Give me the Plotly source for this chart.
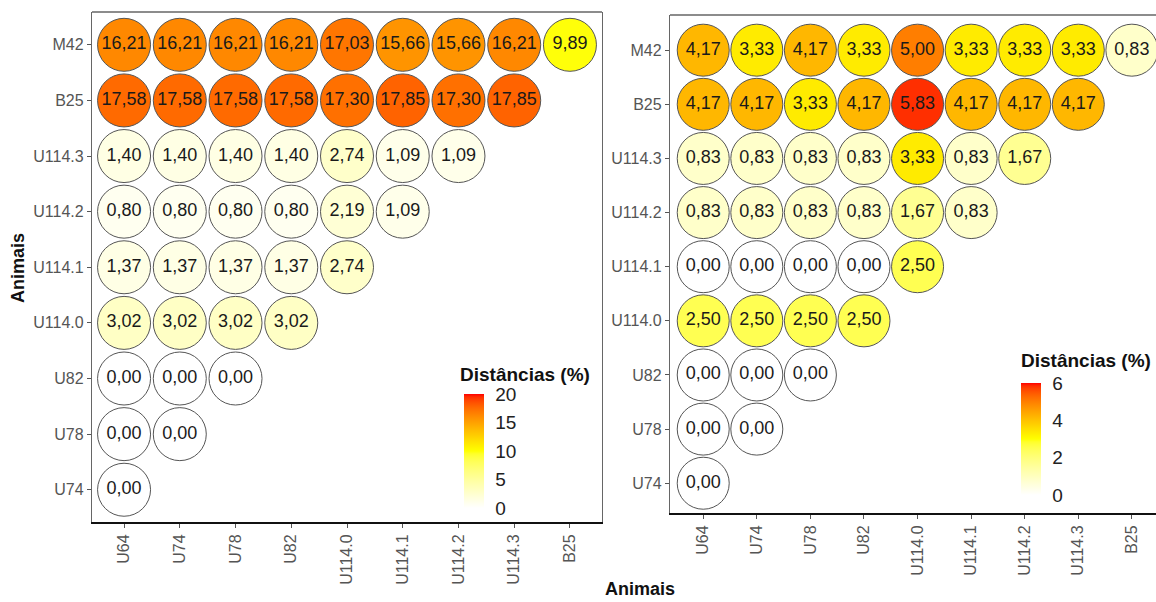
import numpy as np
import plotly.graph_objects as go

# Animals on the x axis (left to right) and y axis (top to bottom)
cols = ["U64", "U74", "U78", "U82", "U114.0", "U114.1", "U114.2", "U114.3", "B25"]
rows = ["M42", "B25", "U114.3", "U114.2", "U114.1", "U114.0", "U82", "U78", "U74"]

# Pairwise distances (%) - left matrix (lower triangle, row by row)
dist_left = [
    [16.21, 16.21, 16.21, 16.21, 17.03, 15.66, 15.66, 16.21, 9.89],
    [17.58, 17.58, 17.58, 17.58, 17.30, 17.85, 17.30, 17.85],
    [1.40, 1.40, 1.40, 1.40, 2.74, 1.09, 1.09],
    [0.80, 0.80, 0.80, 0.80, 2.19, 1.09],
    [1.37, 1.37, 1.37, 1.37, 2.74],
    [3.02, 3.02, 3.02, 3.02],
    [0.00, 0.00, 0.00],
    [0.00, 0.00],
    [0.00],
]

# Pairwise distances (%) - right matrix
dist_right = [
    [4.17, 3.33, 4.17, 3.33, 5.00, 3.33, 3.33, 3.33, 0.83],
    [4.17, 4.17, 3.33, 4.17, 5.83, 4.17, 4.17, 4.17],
    [0.83, 0.83, 0.83, 0.83, 3.33, 0.83, 1.67],
    [0.83, 0.83, 0.83, 0.83, 1.67, 0.83],
    [0.00, 0.00, 0.00, 0.00, 2.50],
    [2.50, 2.50, 2.50, 2.50],
    [0.00, 0.00, 0.00],
    [0.00, 0.00],
    [0.00],
]

left_ticks = [0, 5, 10, 15, 20]
right_ticks = [0, 2, 4, 6]

W, H = 1156, 602


# ---- white -> yellow -> red gradient interpolated in CIELAB ----
def _lin(c):
    c = np.asarray(c, float) / 255.0
    return np.where(c <= 0.04045, c / 12.92, ((c + 0.055) / 1.055) ** 2.4)


def _gam(c):
    c = np.clip(c, 0, 1)
    return np.where(c <= 0.0031308, 12.92 * c, 1.055 * c ** (1 / 2.4) - 0.055) * 255


M = np.array([[0.4124, 0.3576, 0.1805],
              [0.2126, 0.7152, 0.0722],
              [0.0193, 0.1192, 0.9505]])
WP = np.array([0.95047, 1.0, 1.08883])


def rgb2lab(rgb):
    xyz = M @ _lin(rgb) / WP
    f = np.where(xyz > 216 / 24389, np.cbrt(xyz), (24389 / 27 * xyz + 16) / 116)
    return np.array([116 * f[1] - 16, 500 * (f[0] - f[1]), 200 * (f[1] - f[2])])


def lab2rgb(lab):
    L, a, b = lab
    fy = (L + 16) / 116
    fx = fy + a / 500
    fz = fy - b / 200
    f = np.array([fx, fy, fz])
    xyz = np.where(f ** 3 > 216 / 24389, f ** 3, (116 * f - 16) / (24389 / 27)) * WP
    return _gam(np.linalg.solve(M, xyz))


anchors = [(255, 255, 255), (255, 255, 0), (255, 0, 0)]
labs = [rgb2lab(c) for c in anchors]
colorscale = []
for t in np.linspace(0, 1, 41):
    seg = min(int(t * 2), 1)
    u = t * 2 - seg
    lab = labs[seg] * (1 - u) + labs[seg + 1] * u
    r, g, b = lab2rgb(lab)
    colorscale.append([float(t), f"rgb({int(round(r))},{int(round(g))},{int(round(b))})"])


def long_form(mat):
    xs, ys, vs = [], [], []
    for i, row in enumerate(rows):
        for j, v in enumerate(mat[i]):
            xs.append(cols[j])
            ys.append(row)
            vs.append(v)
    return xs, ys, vs


def fmt(v):
    return f"{v:.2f}".replace(".", ",")


fig = go.Figure()

FONT = "Liberation Sans, Arial, sans-serif"

for mat, xa, ya, cax, size in [
    (dist_left, "x", "y", "coloraxis", 53),
    (dist_right, "x2", "y2", "coloraxis2", 52),
]:
    xs, ys, vs = long_form(mat)
    fig.add_trace(go.Scatter(
        x=xs, y=ys, xaxis=xa, yaxis=ya,
        mode="markers+text",
        text=[fmt(v) for v in vs],
        textposition="middle center",
        textfont=dict(family=FONT, size=18, color="#1a1a1a"),
        marker=dict(size=size, color=vs, coloraxis=cax,
                    line=dict(color="#555555", width=1)),
        showlegend=False, hoverinfo="skip", cliponaxis=False,
    ))


def px_x(p):
    return p / W


def px_y(p):
    return 1 - p / H


tickfont = dict(family=FONT, size=16, color="#555555")
common_x = dict(type="category", categoryorder="array", categoryarray=cols,
                tickangle=-90, ticks="outside", ticklen=4, tickcolor="#555555",
                showgrid=False, zeroline=False, showline=True, linecolor="#111111",
                linewidth=2, tickfont=tickfont)
common_y = dict(type="category", categoryorder="array", categoryarray=rows[::-1],
                ticks="outside", ticklen=4, tickcolor="#555555",
                showgrid=False, zeroline=False, showline=True, linecolor="#666666",
                linewidth=1.3, tickfont=tickfont)

# colour bar geometry (pixels): left edge, vertical centre, length
BAR_W = 20
bars = [
    dict(x=464, yc=451, length=114, cmin=0, cmax=20, ticks=left_ticks),
    dict(x=1021, yc=439, length=112, cmin=0, cmax=6, ticks=right_ticks),
]


def colorbar(b):
    return dict(x=px_x(b["x"]), xanchor="left", xpad=0,
                y=px_y(b["yc"]), yanchor="middle", ypad=0,
                len=b["length"], lenmode="pixels",
                thickness=BAR_W, thicknessmode="pixels",
                tickvals=b["ticks"], ticks="outside", tickcolor="rgba(0,0,0,0)",
                ticklen=8, outlinewidth=0,
                tickfont=dict(family=FONT, size=19, color="#222222"))


fig.update_layout(
    width=W, height=H,
    margin=dict(l=0, r=0, t=0, b=0),
    paper_bgcolor="white", plot_bgcolor="white",
    xaxis=dict(common_x, domain=[px_x(92), px_x(602)], range=[-0.575, 8.575], anchor="y"),
    yaxis=dict(common_y, domain=[px_y(522), px_y(12)], range=[-0.58, 8.59], anchor="x",
               mirror=True),
    xaxis2=dict(common_x, domain=[px_x(670), 1.0], range=[-0.62, 8.45], anchor="y2"),
    yaxis2=dict(common_y, domain=[px_y(513), px_y(15)], range=[-0.55, 8.65], anchor="x2"),
    coloraxis=dict(colorscale=colorscale, cmin=bars[0]["cmin"], cmax=bars[0]["cmax"],
                   colorbar=colorbar(bars[0])),
    coloraxis2=dict(colorscale=colorscale, cmin=bars[1]["cmin"], cmax=bars[1]["cmax"],
                    colorbar=colorbar(bars[1])),
)

# small white break marks on both edges of each colour bar
for b in bars:
    for v in b["ticks"]:
        yp = b["yc"] + b["length"] / 2 - (v - b["cmin"]) / (b["cmax"] - b["cmin"]) * b["length"]
        for x0, x1 in [(b["x"], b["x"] + 4), (b["x"] + BAR_W - 4, b["x"] + BAR_W)]:
            fig.add_shape(type="line", xref="paper", yref="paper",
                          x0=px_x(x0), x1=px_x(x1), y0=px_y(yp), y1=px_y(yp),
                          line=dict(color="white", width=1))

# top borders of the two panels
fig.add_shape(type="line", xref="x domain", yref="y domain", x0=0, x1=1, y0=1, y1=1,
              line=dict(color="#666666", width=1.3))
fig.add_shape(type="line", xref="x2 domain", yref="y2 domain", x0=0, x1=1, y0=1, y1=1,
              line=dict(color="#666666", width=1.3))

title_font = dict(family=FONT, size=19, color="#111111")
fig.add_annotation(text="<b>Distâncias (%)</b>", xref="paper", yref="paper",
                   x=px_x(458), y=px_y(374), xanchor="left", yanchor="middle",
                   showarrow=False, font=title_font)
fig.add_annotation(text="<b>Distâncias (%)</b>", xref="paper", yref="paper",
                   x=px_x(1019), y=px_y(360), xanchor="left", yanchor="middle",
                   showarrow=False, font=title_font)

axis_title_font = dict(family=FONT, size=18, color="#111111")
fig.add_annotation(text="<b>Animais</b>", xref="paper", yref="paper",
                   x=px_x(18), y=px_y(268), textangle=-90,
                   xanchor="center", yanchor="middle", showarrow=False,
                   font=axis_title_font)
fig.add_annotation(text="<b>Animais</b>", xref="paper", yref="paper",
                   x=px_x(640), y=px_y(589),
                   xanchor="center", yanchor="middle", showarrow=False,
                   font=axis_title_font)

fig.write_html("out.html")
